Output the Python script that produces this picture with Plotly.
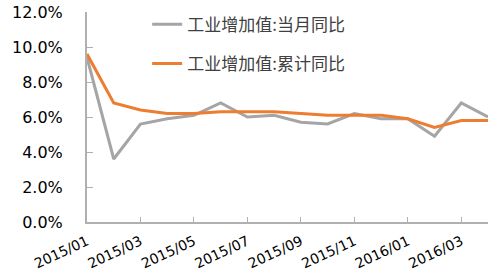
import plotly.graph_objects as go

months = ["2015/01", "2015/02", "2015/03", "2015/04", "2015/05", "2015/06",
          "2015/07", "2015/08", "2015/09", "2015/10", "2015/11", "2015/12",
          "2016/01", "2016/02", "2016/03", "2016/04"]
monthly_yoy = [9.4, 3.6, 5.6, 5.9, 6.1, 6.8, 6.0, 6.1, 5.7, 5.6, 6.2, 5.9, 5.9, 4.9, 6.8, 6.0]
cumulative_yoy = [9.6, 6.8, 6.4, 6.2, 6.2, 6.3, 6.3, 6.3, 6.2, 6.1, 6.1, 6.1, 5.9, 5.4, 5.8, 5.8]
tick_labels = months[::2]
y_ticks = [0, 2, 4, 6, 8, 10, 12]
y_tick_text = [f"{v:.1f}%" for v in y_ticks]

fig = go.Figure()
fig.add_trace(go.Scatter(x=months, y=monthly_yoy, mode="lines",
                         name="工业增加值:当月同比", legendgroup="a",
                         line=dict(color="#a5a5a5", width=3)))
fig.add_trace(go.Scatter(x=months, y=cumulative_yoy, mode="lines",
                         name="工业增加值:累计同比", legendgroup="b",
                         line=dict(color="#ed7d31", width=3)))

axis_color = "#b0b0b0"
fig.update_layout(
    width=497, height=277,
    margin=dict(l=87, r=9, t=7, b=55),
    paper_bgcolor="white", plot_bgcolor="white",
    font=dict(family="DejaVu Sans", size=16, color="#000000"),
    showlegend=True,
    legend=dict(x=0.15, y=1.025, xanchor="left", yanchor="top",
                bgcolor="rgba(0,0,0,0)", tracegroupgap=14, borderwidth=0,
                font=dict(family="Noto Sans CJK SC", size=17, color="#404040")),
    xaxis=dict(type="category", range=[0, len(months) - 1], automargin=False,
               tickmode="array", tickvals=tick_labels, ticktext=tick_labels,
               tickangle=-25, ticks="inside", ticklen=5, tickcolor=axis_color,
               ticklabelstandoff=4,
               showline=True, linecolor=axis_color, linewidth=2,
               showgrid=False, zeroline=False,
               tickfont=dict(family="DejaVu Sans", size=14, color="#000000")),
    yaxis=dict(range=[0, 12], automargin=False, tickmode="array",
               tickvals=y_ticks, ticktext=y_tick_text,
               ticks="inside", ticklen=6,
               tickcolor=axis_color, ticklabelstandoff=19,
               showline=True, linecolor=axis_color, linewidth=2,
               showgrid=False, zeroline=False,
               tickfont=dict(family="DejaVu Sans", size=16, color="#000000")),
)

fig.write_html("out.html")
